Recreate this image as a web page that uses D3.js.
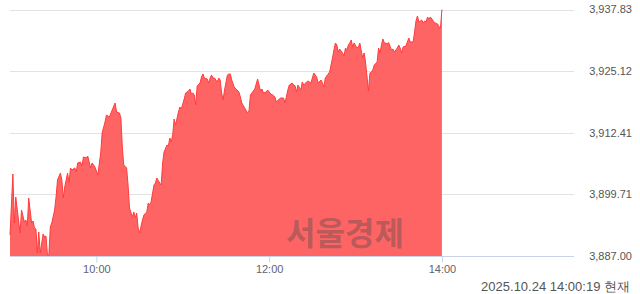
<!DOCTYPE html>
<meta charset="utf-8">
<style>
body { margin: 0; background: #fff; }
svg { display: block; font-family: "Liberation Sans", Arial, sans-serif; }
.grid line { stroke: #e3e3e3; }
.axis--x path, .axis--x line { stroke: #c8d3ea; }
.axis--x text { fill: #5f6470; font-size: 11px; }
.ylab { fill: #555; font-size: 11px; }
</style>
<svg width="640" height="294"></svg>
<script src="https://d3js.org/d3.v7.min.js"></script>
<script>

var times = ["09:00","09:02","09:03","09:04","09:07","09:08","09:10","09:11","09:12","09:13",
  "09:15","09:16","09:17","09:18","09:19","09:20","09:21","09:23","09:24","09:25",
  "09:26","09:27","09:28","09:29","09:31","09:32","09:33","09:35","09:36","09:37",
  "09:38","09:40","09:41","09:42","09:43","09:45","09:46","09:47","09:49","09:50",
  "09:51","09:53","09:54","09:56","09:57","09:59","10:01","10:03","10:04","10:06",
  "10:07","10:09","10:11","10:13","10:14","10:16","10:17","10:18","10:19","10:21",
  "10:22","10:23","10:25","10:26","10:27","10:28","10:29","10:30","10:32","10:33",
  "10:35","10:36","10:37","10:38","10:40","10:41","10:42","10:44","10:45","10:46",
  "10:47","10:49","10:50","10:51","10:52","10:53","10:54","10:55","10:57","10:58",
  "10:59","11:01","11:02","11:04","11:05","11:06","11:07","11:08","11:09","11:10",
  "11:12","11:13","11:14","11:15","11:17","11:18","11:19","11:20","11:21","11:22",
  "11:24","11:25","11:26","11:27","11:28","11:29","11:31","11:32","11:33","11:34",
  "11:36","11:37","11:39","11:40","11:41","11:43","11:45","11:46","11:47","11:48",
  "11:50","11:52","11:53","11:54","11:55","11:56","11:58","11:59","12:01","12:02",
  "12:04","12:05","12:07","12:08","12:10","12:11","12:13","12:14","12:16","12:17",
  "12:18","12:19","12:20","12:22","12:23","12:24","12:26","12:27","12:29","12:31",
  "12:33","12:34","12:36","12:37","12:38","12:39","12:41","12:42","12:44","12:45",
  "12:46","12:47","12:48","12:49","12:51","12:52","12:53","12:54","12:55","12:56",
  "12:57","12:58","12:59","13:01","13:02","13:03","13:04","13:05","13:06","13:07",
  "13:09","13:10","13:11","13:12","13:13","13:15","13:16","13:17","13:18","13:19",
  "13:20","13:22","13:23","13:25","13:26","13:27","13:29","13:30","13:31","13:32",
  "13:33","13:35","13:37","13:38","13:40","13:41","13:42","13:43","13:44","13:46",
  "13:47","13:48","13:49","13:50","13:51","13:52","13:54","13:55","13:56","13:57",
  "13:58","13:59","14:00"];

var values = [3891.33,3903.91,3893.80,3899.17,3891.74,3896.49,3894.01,3894.42,3893.19,3898.96,
  3893.80,3894.22,3892.77,3892.57,3887.62,3891.95,3887.62,3891.54,3890.92,3891.12,
  3887.21,3887.21,3892.98,3893.80,3896.49,3899.17,3902.67,3904.11,3902.67,3898.96,
  3901.23,3904.11,3902.05,3905.15,3904.73,3905.15,3904.32,3906.18,3906.38,3905.56,
  3907.41,3907.21,3907.62,3905.15,3906.18,3905.35,3903.70,3908.24,3912.36,3914.63,
  3916.07,3915.66,3917.11,3918.55,3916.69,3916.50,3915.46,3909.48,3905.76,3905.15,
  3901.64,3896.90,3895.04,3896.07,3894.84,3895.87,3892.77,3891.74,3894.42,3895.45,
  3896.07,3897.93,3897.52,3898.13,3901.64,3902.05,3903.08,3902.05,3901.64,3906.18,
  3908.44,3909.89,3909.70,3911.33,3910.51,3911.95,3915.25,3914.01,3916.69,3917.72,
  3917.31,3919.37,3920.61,3921.02,3921.44,3920.40,3920.61,3920.20,3918.14,3922.05,
  3922.67,3923.91,3924.53,3923.70,3923.50,3922.67,3923.70,3924.32,3923.70,3923.70,
  3922.88,3923.70,3923.29,3920.61,3919.17,3921.23,3924.32,3924.53,3924.53,3923.29,
  3921.64,3921.44,3920.82,3919.79,3918.55,3917.52,3916.49,3916.90,3920.20,3920.61,
  3921.44,3923.50,3922.26,3921.02,3921.44,3920.61,3920.82,3921.23,3920.40,3920.30,
  3919.79,3918.75,3919.37,3919.58,3919.58,3918.55,3921.23,3922.26,3922.67,3922.26,
  3922.10,3920.82,3922.26,3921.23,3922.88,3922.26,3922.88,3923.09,3922.67,3924.73,
  3923.91,3922.67,3923.29,3922.67,3921.85,3923.70,3924.53,3924.94,3927.83,3929.48,
  3930.92,3930.51,3929.06,3929.68,3928.86,3928.24,3929.89,3929.48,3930.51,3930.92,
  3931.54,3930.10,3930.92,3929.89,3930.10,3930.92,3929.27,3927.83,3928.86,3926.80,
  3921.02,3924.73,3924.94,3925.35,3926.38,3927.00,3929.89,3928.86,3930.51,3931.75,
  3930.92,3930.80,3931.00,3929.48,3929.68,3929.06,3929.89,3930.51,3929.89,3928.86,
  3930.10,3930.30,3931.95,3931.13,3931.13,3933.19,3935.46,3936.49,3935.25,3935.66,
  3935.04,3935.46,3935.25,3936.28,3935.87,3936.28,3935.46,3935.04,3935.00,3934.84,
  3934.22,3934.01,3937.83];

var yTicks = [3887.00, 3899.71, 3912.41, 3925.12, 3937.83];
var xTicks = ["10:00", "12:00", "14:00"];
var sessionStart = "09:00", sessionEnd = "15:30";
var stamp = "2025.10.24 14:00:19 현재";
var watermark = "서울경제";

var parse = d3.timeParse("%H:%M");
var data = times.map(function(t, i) { return {t: parse(t), v: values[i]}; });

var svg = d3.select("svg");

var x = d3.scaleTime()
    .domain([parse(sessionStart), parse(sessionEnd)])
    .range([10, 571.5]);

var y = d3.scaleLinear()
    .domain([yTicks[0], yTicks[yTicks.length - 1]])
    .range([256, 9.5]);

// horizontal grid
svg.append("g")
    .attr("class", "grid")
  .selectAll("line")
  .data(yTicks.slice(1))
  .enter().append("line")
    .attr("x1", 10)
    .attr("x2", 574)
    .attr("y1", function(d) { return Math.round(y(d)) + 0.5; })
    .attr("y2", function(d) { return Math.round(y(d)) + 0.5; });

// y labels on the right
svg.append("g")
  .selectAll("text")
  .data(yTicks)
  .enter().append("text")
    .attr("class", "ylab")
    .attr("x", 632)
    .attr("y", function(d) { return y(d); })
    .attr("dy", "0.35em")
    .attr("text-anchor", "end")
    .text(function(d) { return d3.format(",.2f")(d); });

var area = d3.area()
    .x(function(d) { return x(d.t); })
    .y0(y(yTicks[0]))
    .y1(function(d) { return y(d.v); });

var line = d3.line()
    .x(function(d) { return x(d.t); })
    .y(function(d) { return y(d.v); });

svg.append("path")
    .datum(data)
    .attr("fill", "#ff6464")
    .attr("d", area);

svg.append("path")
    .datum(data)
    .attr("fill", "none")
    .attr("stroke", "#ff3c3c")
    .attr("stroke-width", 1)
    .attr("d", line);

// watermark
svg.append("text")
    .attr("x", 345)
    .attr("y", 234)
    .attr("dy", "0.35em")
    .attr("text-anchor", "middle")
    .attr("font-family", "Noto Sans CJK KR")
    .attr("font-weight", "bold")
    .attr("font-size", 32)
    .attr("fill", "#4a4a4a")
    .attr("fill-opacity", 0.4)
    .text(watermark);

// x axis
svg.append("g")
    .attr("class", "axis axis--x")
    .attr("transform", "translate(0,256.5)")
    .call(d3.axisBottom(x)
        .tickValues(xTicks.map(parse))
        .tickFormat(d3.timeFormat("%H:%M"))
        .tickSize(6)
        .tickSizeOuter(0)
        .tickPadding(3))
    .call(function(g) {
      g.select(".domain").attr("d", "M10,0H574");
    });

svg.append("text")
    .attr("x", 630)
    .attr("y", 286)
    .attr("dy", "0.35em")
    .attr("text-anchor", "end")
    .attr("fill", "#555")
    .attr("font-size", 13)
    .text(stamp);

</script>
